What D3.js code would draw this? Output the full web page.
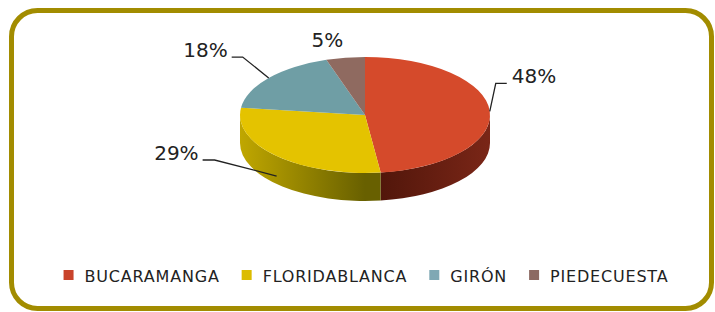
<!DOCTYPE html>
<html>
<head>
<meta charset="utf-8">
<script src="https://cdn.jsdelivr.net/npm/d3@7"></script>
<style>
  body { margin: 0; background: #fff; }
  svg { display: block; }
</style>
</head>
<body>
<div id="chart"></div>
<script>
// Data
const municipios = ["BUCARAMANGA", "FLORIDABLANCA", "GIRÓN", "PIEDECUESTA"];
const porcentajes = [48, 29, 18, 5];
const etiquetas = ["48%", "29%", "18%", "5%"];

const topColors = ["#d54a2b", "#e4c300", "#6f9ea5", "#8f6a60"];
const sideLight = ["#7a2617", "#c0a700", "#4f7a80", "#6b4a42"];
const sideDark = ["#4c1409", "#686000", "#3a5a60", "#4e342e"];
const legendColors = ["#c9432b", "#dcbc00", "#7fa8b4", "#8c6a62"];

const W = 715, H = 312;
const cx = 365, cy = 115, rx = 125, ry = 58, depth = 28;

const svg = d3.select("#chart")
  .append("svg")
    .attr("width", W)
    .attr("height", H);

const defs = svg.append("defs");

// Frame
svg.append("rect")
    .attr("x", 11.5)
    .attr("y", 10.5)
    .attr("width", 700)
    .attr("height", 298)
    .attr("rx", 26)
    .attr("fill", "#fff")
    .attr("stroke", "#a28c00")
    .attr("stroke-width", 5);

const pie = d3.pie().sort(null).value(d => d)(porcentajes);

const pt = (a, dy = 0) => [cx + rx * Math.sin(a), cy - ry * Math.cos(a) + dy];

// side gradients (horizontal, lighter toward the outer edge)
pie.forEach((d, i) => {
  const mid = (d.startAngle + d.endAngle) / 2;
  const g = defs.append("linearGradient")
      .attr("id", "side" + i)
      .attr("gradientUnits", "userSpaceOnUse")
      .attr("x1", cx).attr("y1", 0)
      .attr("x2", Math.sin(mid) > 0 ? cx + rx : cx - rx).attr("y2", 0);
  g.append("stop").attr("offset", "0%").attr("stop-color", sideDark[i]);
  g.append("stop").attr("offset", "100%").attr("stop-color", sideLight[i]);
});

// front sides (angles between 90 and 270 deg are facing the viewer)
const sidePath = (a0, a1) => {
  const s = Math.max(a0, Math.PI / 2), e = Math.min(a1, 3 * Math.PI / 2);
  if (e <= s) return null;
  const p0 = pt(s), p1 = pt(e), q1 = pt(e, depth), q0 = pt(s, depth);
  return `M${p0}A${rx},${ry} 0 0 1 ${p1}L${q1}A${rx},${ry} 0 0 0 ${q0}Z`;
};

svg.append("g")
  .selectAll("path")
  .data(pie.filter(d => sidePath(d.startAngle, d.endAngle)))
  .join("path")
    .attr("d", d => sidePath(d.startAngle, d.endAngle))
    .attr("fill", d => `url(#side${d.index})`);

// top faces
const topPath = d => {
  const p0 = pt(d.startAngle), p1 = pt(d.endAngle);
  const large = d.endAngle - d.startAngle > Math.PI ? 1 : 0;
  return `M${cx},${cy}L${p0}A${rx},${ry} 0 ${large} 1 ${p1}Z`;
};

svg.append("g")
  .selectAll("path")
  .data(pie)
  .join("path")
    .attr("d", topPath)
    .attr("fill", (d, i) => topColors[i]);

// data labels with leader lines
// leader: anchor on the pie, elbow, end of horizontal part; text anchored at the end
const leaderLayout = [
  {dy: 0, elbow: [6, -28], run: 11, anchor: "start"},
  {dy: 20, elbow: [-62, -16], run: -12, anchor: "end"},
  {dy: 0, elbow: [-26, -21], run: -11, anchor: "end"},
  {dy: 0, elbow: null, text: [-18, -11], anchor: "middle"}
];

const labels = svg.append("g");
pie.forEach((d, i) => {
  const mid = (d.startAngle + d.endAngle) / 2;
  const L = leaderLayout[i];
  const a = pt(mid, L.dy);
  let tx, ty;
  if (L.elbow) {
    const b = [a[0] + L.elbow[0], a[1] + L.elbow[1]];
    const c = [b[0] + L.run, b[1]];
    labels.append("path")
        .attr("d", `M${a}L${b}L${c}`)
        .attr("fill", "none")
        .attr("stroke", "#222")
        .attr("stroke-width", 1.3);
    tx = c[0] + (L.run > 0 ? 5 : -4);
    ty = c[1];
  } else {
    tx = a[0] + L.text[0];
    ty = a[1] + L.text[1];
  }
  labels.append("text")
      .attr("x", tx)
      .attr("y", ty)
      .attr("text-anchor", L.anchor)
      .attr("font-family", "DejaVu Sans, sans-serif")
      .attr("font-size", 20)
      .attr("fill", "#222")
      .text(etiquetas[i]);
});

// Legend
const legend = svg.append("g");
const items = legend.selectAll("g")
  .data(municipios)
  .join("g");

items.append("rect")
    .attr("width", 10)
    .attr("height", 10)
    .attr("y", 270)
    .attr("fill", (d, i) => legendColors[i]);

items.append("text")
    .attr("x", 21)
    .attr("y", 282)
    .attr("font-family", "DejaVu Sans, sans-serif")
    .attr("font-size", 16)
    .attr("letter-spacing", 0.8)
    .attr("fill", "#222")
    .text(d => d);

let xPos = 0;
const widths = [];
items.each(function() {
  widths.push(21 + d3.select(this).select("text").node().getComputedTextLength());
});
const gap = 22;
const total = d3.sum(widths) + gap * (widths.length - 1);
xPos = 366 - total / 2;
items.attr("transform", (d, i) => {
  const t = `translate(${xPos},0)`;
  xPos += widths[i] + gap;
  return t;
});
</script>
</body>
</html>
